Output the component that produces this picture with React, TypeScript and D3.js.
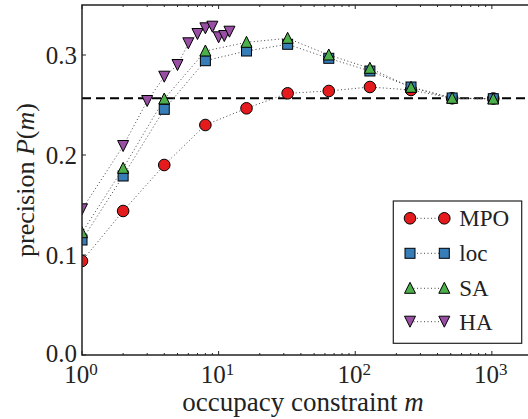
import React from "react";
import * as d3 from "d3";

const W = 528;
const H = 419;

const mStd = [1, 2, 4, 8, 16, 32, 64, 128, 256, 512, 1024];
const mpoValues = [0.094, 0.144, 0.19, 0.23, 0.2467, 0.2617, 0.264, 0.268, 0.265, 0.2567, 0.2565];
const locValues = [0.115, 0.179, 0.2457, 0.2943, 0.304, 0.3107, 0.2967, 0.284, 0.268, 0.257, 0.2563];
const saValues = [0.1223, 0.1867, 0.256, 0.304, 0.3127, 0.3167, 0.3, 0.2867, 0.2677, 0.2567, 0.256];
const mHA = [1, 2, 3, 4, 5, 6, 7, 8, 9, 10, 11, 12];
const haValues = [0.1457, 0.209, 0.254, 0.2783, 0.29, 0.3117, 0.321, 0.3267, 0.3283, 0.3177, 0.319, 0.3233];
const baseline = 0.2567;

const yTicks = [0.0, 0.1, 0.2, 0.3];
const xTicks = [1, 10, 100, 1000];

const seriesNames = ["MPO", "loc", "SA", "HA"];
const seriesColors = ["#e41a1c", "#377eb8", "#4daf4a", "#984ea3"];
const seriesShapes = ["circle", "square", "triUp", "triDown"];

const left = 82, top = 5, right = 533, bottom = 355;
const FONT = "'Liberation Serif', 'DejaVu Serif', serif";

function Marker({ shape, x, y, color }: { shape: string; x: number; y: number; color: string }) {
  const s = 5.5;
  const common = { fill: color, stroke: "#000", strokeWidth: 1 };
  if (shape === "circle") return <circle cx={x} cy={y} r={5.8} {...common} />;
  if (shape === "square") return <rect x={x - 5} y={y - 5} width={10} height={10} {...common} />;
  if (shape === "triUp")
    return <path d={`M${x},${y - s - 0.5}L${x + s},${y + s - 0.5}L${x - s},${y + s - 0.5}Z`} {...common} />;
  return <path d={`M${x},${y + s}L${x + s},${y - s}L${x - s},${y - s}Z`} {...common} />;
}

export default function App() {
  const x = d3.scaleLog().domain([1, 2000]).range([left, right]);
  const y = d3.scaleLinear().domain([0, 0.35]).range([bottom, top]);

  const series = [
    { xs: mStd, ys: mpoValues },
    { xs: mStd, ys: locValues },
    { xs: mStd, ys: saValues },
    { xs: mHA, ys: haValues },
  ];

  const line = d3
    .line<[number, number]>()
    .x((d) => x(d[0]))
    .y((d) => y(d[1]));

  const minorTicks: number[] = [];
  for (let e = 0; e < 4; e++) {
    for (let k = 2; k <= 9; k++) {
      const v = k * Math.pow(10, e);
      if (v <= 2000) minorTicks.push(v);
    }
  }

  const legendRows = [218.3, 253.3, 288.3, 321.7];

  return (
    <svg width={W} height={H} style={{ position: "absolute", left: 0, top: 0, background: "#fff" }} fontFamily={FONT}>
      <defs>
        <clipPath id="plotclip">
          <rect x={left} y={top} width={right - left} height={bottom - top} />
        </clipPath>
      </defs>
      <rect x={0} y={0} width={W} height={H} fill="#fff" />
      <g clipPath="url(#plotclip)">
        <line x1={left} x2={right} y1={y(baseline)} y2={y(baseline)} stroke="#000" strokeWidth={2} strokeDasharray="9,5" />
        {series.map((s, i) => (
          <g key={i}>
            <path
              d={line(s.xs.map((v, j) => [v, s.ys[j]] as [number, number])) || ""}
              fill="none"
              stroke="#444"
              strokeWidth={1}
              strokeDasharray="1,2.5"
            />
            {s.xs.map((v, j) => (
              <Marker key={j} shape={seriesShapes[i]} x={x(v)} y={y(s.ys[j])} color={seriesColors[i]} />
            ))}
          </g>
        ))}
      </g>
      {/* ticks */}
      {xTicks.map((t) => (
        <g key={t}>
          <line x1={x(t)} x2={x(t)} y1={bottom} y2={bottom - 4} stroke="#222" strokeWidth={1} />
          <line x1={x(t)} x2={x(t)} y1={top} y2={top + 4} stroke="#222" strokeWidth={1} />
        </g>
      ))}
      {minorTicks.map((t) => (
        <g key={"m" + t}>
          <line x1={x(t)} x2={x(t)} y1={bottom} y2={bottom - 2} stroke="#222" strokeWidth={1} />
          <line x1={x(t)} x2={x(t)} y1={top} y2={top + 2} stroke="#222" strokeWidth={1} />
        </g>
      ))}
      {yTicks.map((t) => (
        <line key={t} x1={left} x2={left + 4} y1={y(t)} y2={y(t)} stroke="#222" strokeWidth={1} />
      ))}
      <rect x={left} y={top} width={right - left} height={bottom - top} fill="none" stroke="#222" strokeWidth={1.5} />
      {/* tick labels */}
      {yTicks.map((t) => (
        <text key={t} x={77} y={y(t) - (t === 0 ? 1.5 : 0)} dy="0.35em" textAnchor="end" fontSize={25} fill="#222">
          {t.toFixed(1)}
        </text>
      ))}
      {xTicks.map((t, i) => (
        <text key={t} x={x(t) - 1} y={383} textAnchor="middle" fontSize={25} fill="#222">
          10
          <tspan fontSize={17} dy={-8}>
            {i}
          </tspan>
        </text>
      ))}
      {/* axis labels */}
      <text x={(left + 480) / 2 + 22} y={411} textAnchor="middle" fontSize={27} fill="#222">
        occupacy constraint <tspan fontStyle="italic">m</tspan>
      </text>
      <text transform={`translate(34,${(top + bottom) / 2}) rotate(-90)`} textAnchor="middle" fontSize={26} fill="#222">
        precision <tspan fontStyle="italic">P</tspan>(<tspan fontStyle="italic">m</tspan>)
      </text>
      {/* legend */}
      <rect x={393.3} y={201} width={128.4} height={142.3} fill="#fff" stroke="#222" strokeWidth={1.2} />
      {seriesNames.map((n, i) => (
        <g key={n}>
          <line x1={410} x2={444.3} y1={legendRows[i]} y2={legendRows[i]} stroke="#444" strokeWidth={1} strokeDasharray="1,2.5" />
          <Marker shape={seriesShapes[i]} x={410} y={legendRows[i]} color={seriesColors[i]} />
          <Marker shape={seriesShapes[i]} x={444.3} y={legendRows[i]} color={seriesColors[i]} />
          <text x={459.3} y={legendRows[i]} dy="0.35em" fontSize={23} fill="#222">
            {n}
          </text>
        </g>
      ))}
    </svg>
  );
}
